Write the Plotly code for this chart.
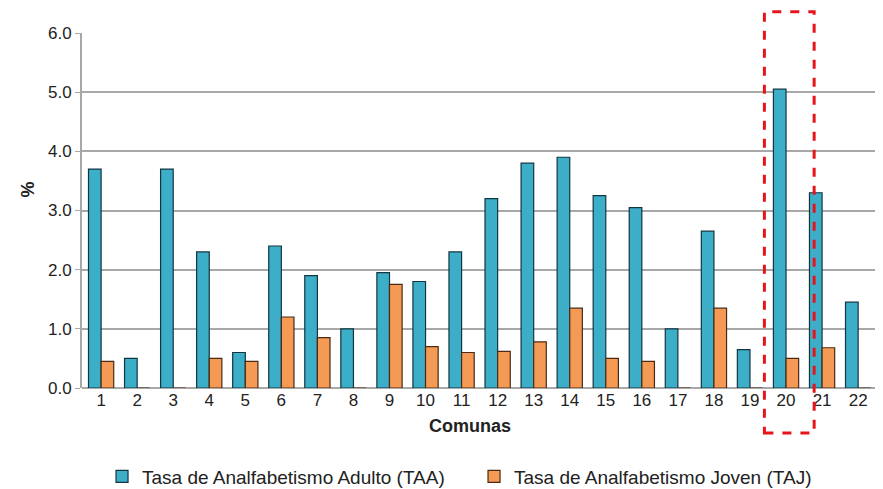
import plotly.graph_objects as go

comunas = list(range(1, 23))
tick_labels = [str(c) for c in comunas]
taa = [3.7, 0.5, 3.7, 2.3, 0.6, 2.4, 1.9, 1.0, 1.95, 1.8, 2.3, 3.2,
       3.8, 3.9, 3.25, 3.05, 1.0, 2.65, 0.65, 5.05, 3.3, 1.45]
taj = [0.45, 0.0, 0.0, 0.5, 0.45, 1.2, 0.85, 0.0, 1.75, 0.7, 0.6, 0.62,
       0.78, 1.35, 0.5, 0.45, 0.0, 1.35, 0.0, 0.5, 0.68, 0.0]
highlight = 20

font = "Liberation Sans, Arial, sans-serif"

fig = go.Figure()
fig.add_trace(go.Bar(
    x=comunas, y=taa, name="Tasa de Analfabetismo Adulto (TAA)",
    marker=dict(color="#3DAEC8", line=dict(color="#123540", width=1.2)),
))
fig.add_trace(go.Bar(
    x=comunas, y=taj, name="Tasa de Analfabetismo Joven (TAJ)",
    marker=dict(color="#F59A54", line=dict(color="#4A2A14", width=1.2)),
))

fig.add_shape(type="rect", xref="x", yref="paper",
              x0=highlight - 0.6, x1=highlight + 0.78, y0=-0.127, y1=1.06,
              line=dict(color="#E8141C", width=3, dash="dash"))

fig.add_annotation(text="<b>Comunas</b>", xref="paper", yref="paper",
                   x=0.484, y=-0.142, showarrow=False,
                   font=dict(size=18, color="#222", family=font))
fig.add_annotation(text="<b>%</b>", xref="paper", yref="paper",
                   x=-0.082, y=0.56, showarrow=False, textangle=-90,
                   font=dict(size=18, color="#222", family=font))

fig.update_layout(
    width=875, height=481,
    margin=dict(l=74, r=0, t=25, b=101, autoexpand=False),
    paper_bgcolor="white", plot_bgcolor="white",
    barmode="group", bargap=0.3, bargroupgap=0.0,
    font=dict(family=font, size=17, color="#222"),
    showlegend=True,
    legend=dict(orientation="h", x=0.025, xanchor="left", y=-0.196, yanchor="top",
                font=dict(size=19, family=font, color="#222"),
                itemwidth=30, tracegroupgap=0,
                entrywidth=327, entrywidthmode="pixels"),
    xaxis=dict(range=[0.47, 22.69], tickmode="array", tickvals=comunas,
               ticktext=tick_labels, showgrid=False, zeroline=False,
               showline=False, ticks="", tickfont=dict(size=17)),
    yaxis=dict(range=[0, 6], tickvals=[0, 1, 2, 3, 4, 5, 6],
               ticktext=["0.0", "1.0", "2.0", "3.0", "4.0", "5.0", "6.0"],
               showgrid=True, gridcolor="#A8A8A8", gridwidth=2,
               zeroline=True, zerolinecolor="#A8A8A8", zerolinewidth=2,
               showline=True, linecolor="#A8A8A8", linewidth=2,
               ticks="outside", ticklen=5, tickcolor="#A8A8A8",
               tickfont=dict(size=17)),
)

fig.write_html("out.html")
